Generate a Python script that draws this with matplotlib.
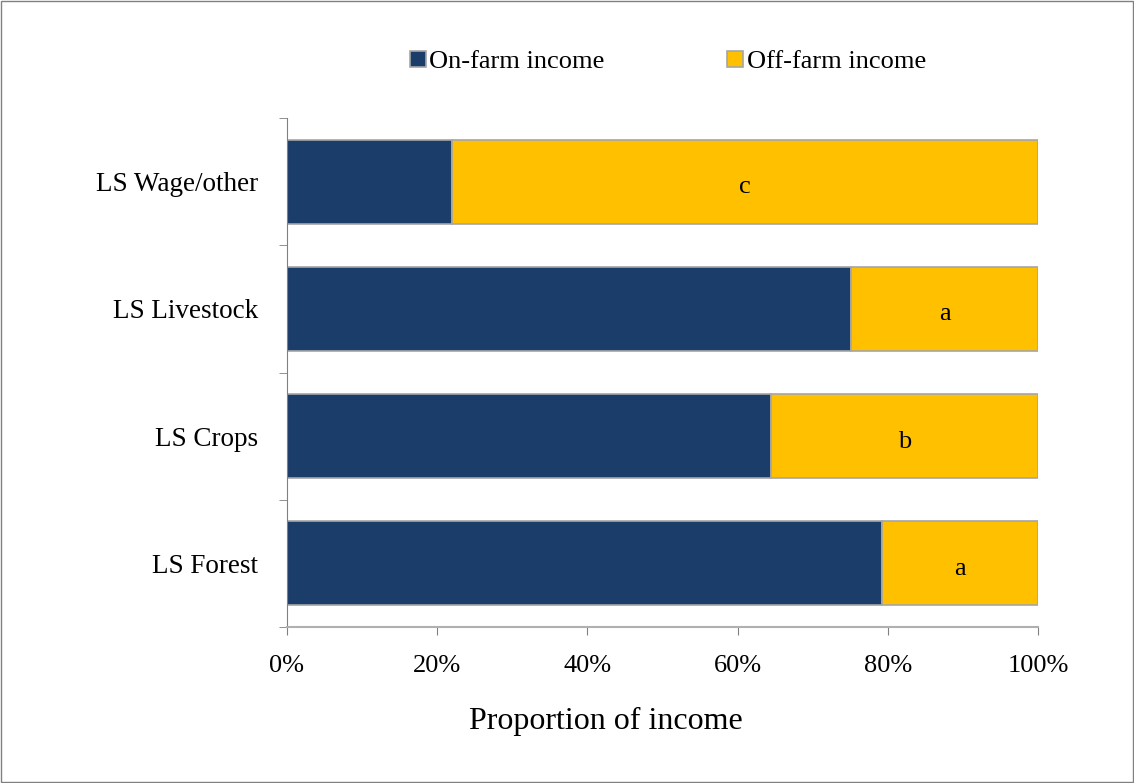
import matplotlib
matplotlib.use("Agg")
import matplotlib.pyplot as plt
import numpy as np

plt.rcParams['font.family'] = ['Liberation Serif', 'DejaVu Serif']

groups = ["LS Forest", "LS Crops", "LS Livestock", "LS Wage/other"]
on_farm = [79.2, 64.4, 75.1, 22.0]
off_farm = [100 - v for v in on_farm]
letters = ["a", "b", "a", "c"]

fig = plt.figure(figsize=(11.34, 7.83), dpi=100)
ax = fig.add_axes([287/1134, 1 - 627/783, 751/1134, 509/783])

y = np.arange(len(groups))
b1 = ax.barh(y, on_farm, height=0.66, color="#1b3d6a", edgecolor="#a6a6a6",
             linewidth=1.2, label="On-farm income")
b2 = ax.barh(y, off_farm, left=on_farm, height=0.66, color="#ffc000",
             edgecolor="#a6a6a6", linewidth=1.2, label="Off-farm income")

for i in range(len(groups)):
    ax.annotate(letters[i], (on_farm[i] + off_farm[i] / 2, y[i]),
                xytext=(0, -4), textcoords="offset points",
                ha="center", va="center", fontsize=19)

ax.set_xlim(0, 100)
ax.set_ylim(-0.5, len(groups) - 0.5)
ax.set_xticks(np.arange(0, 101, 20))
ax.set_xticklabels([f"{v}%" for v in range(0, 101, 20)], fontsize=19)
ax.set_yticks(y)
ax.set_yticklabels([g + " " for g in groups], fontsize=19.5)
ax.set_yticks(np.arange(-0.5, len(groups), 1), minor=True)
ax.tick_params(axis="y", which="major", length=0, pad=16)
ax.tick_params(axis="y", which="minor", length=6, color="#808080")
ax.tick_params(axis="x", length=6, color="#808080", pad=14)
for s in ["top", "right"]:
    ax.spines[s].set_visible(False)
ax.spines["left"].set_color("#808080")
ax.spines["bottom"].set_color("#b0b0b0")
ax.spines["bottom"].set_linewidth(1.5)

fig.text(606/1134, 1 - 721/783, "Proportion of income", fontsize=23,
         ha="center", va="center")

fig.legend(handles=[b1, b2], loc="center", bbox_to_anchor=(668/1134, 1 - 62/783),
           ncol=2, frameon=False, fontsize=19, handlelength=0.6,
           handleheight=0.6, handletextpad=0.15, columnspacing=4.64)

fig.patches.append(plt.Rectangle((0.001, 0.001), 0.998, 0.998,
                                 transform=fig.transFigure, fill=False,
                                 edgecolor="#808080", linewidth=1))

fig.savefig("out.png", dpi=100)
